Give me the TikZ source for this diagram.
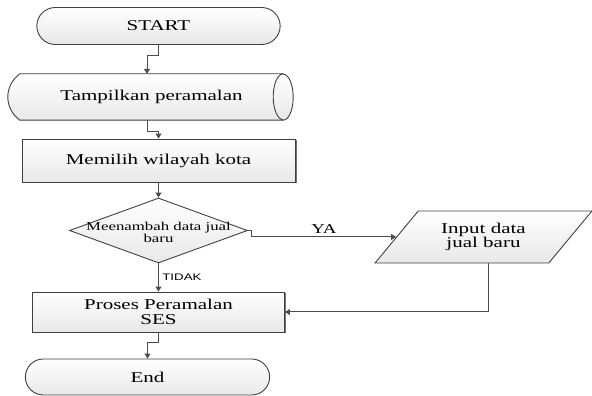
\documentclass[tikz,border=0pt]{standalone}
\usepackage{fontspec}
\setmainfont{Liberation Serif}
\newfontfamily\labelsans{Liberation Sans}
\usetikzlibrary{arrows.meta,shapes.misc,shapes.geometric,shadows,backgrounds}

% text in the picture is stretched sideways
\newcommand\wide[1]{\scalebox{1.4}[1]{#1}}

\tikzset{
  line/.style={draw=black!75, line width=0.9pt},
  flow/.style={draw=black!70, line width=1pt, -{Triangle[length=5pt,width=6pt]}},
  shade/.style={top color=white, bottom color=black!9},
  bigtext/.style={font=\fontsize{15}{14.5}\selectfont, align=center},
  terminal/.style={rounded rectangle, line, shade, bigtext, minimum height=37pt},
  procbox/.style={rectangle, line, shade, bigtext, inner sep=2pt,
    drop shadow={shadow xshift=1.5pt, shadow yshift=-1.5pt, fill=black!55, opacity=1}},
  storage/.style={rectangle, bigtext, minimum width=263pt, minimum height=46pt},
  decision/.style={diamond, line, shade, inner sep=0pt, minimum width=178pt, minimum height=65pt},
  iobox/.style={trapezium, trapezium left angle=49, trapezium right angle=131,
    trapezium stretches=true, line, shade, bigtext, minimum width=217pt, minimum height=52pt},
}

\begin{document}
\begin{tikzpicture}[x=1pt, y=1pt]
    \useasboundingbox (0,0) rectangle (592,396);

    % Start
    \node[terminal, minimum width=250pt] (start) at (158.5,370) {\wide{START}};

    % Tampilan peramalan (storage shape)
    \node[storage] (tamp) at (151.5,299) {\wide{Tampilkan peramalan}};
    \begin{scope}[on background layer]
        \path[line, shade] (tamp.north east) -- (tamp.north west)
            .. controls +(-16,-12) and +(-16,12) .. (tamp.south west)
            -- (tamp.south east) arc[start angle=-90, end angle=90, x radius=10, y radius=23] -- cycle;
        \draw[line] (tamp.north east) arc[start angle=90, end angle=270, x radius=10, y radius=23];
    \end{scope}

    % Pilih wilayah
    \node[procbox, minimum width=273pt, minimum height=43pt] (pick) at (158.5,235.5) {\wide{Memilih wilayah kota}};

    % Keputusan
    \node[decision, label={[font=\fontsize{12}{12}\selectfont, align=center, yshift=-1.5pt]center:{\wide{Meenambah data jual}\\\wide{baru}}}] (d) at (158.5,165.5) {};

    % Input data baru
    \node[iobox] (io) at (483.5,159) {\wide{Input data}\\\wide{jual baru}};

    % Proses SES
    \node[procbox, minimum width=252pt, minimum height=40pt] (proc) at (158.5,84) {\wide{Proses Peramalan}\\\wide{SES}};

    % End
    \node[terminal, minimum width=251pt, minimum height=36pt] (stop) at (147.5,19) {\wide{End}};

    % Connectors
    \draw[flow] (start.south) -- ++(0,-11) -| ([xshift=-4.5pt]tamp.north);
    \draw[flow] ([xshift=-4.5pt]tamp.south) -- ++(0,-11) -| (pick.north);
    \draw[flow] (pick.south) -- (d.north);
    \draw[flow] (d.east) -- ++(4,0) |- node[pos=0.75, above, font=\fontsize{13.5}{13.5}\selectfont] {\wide{YA}} (io.west);
    \draw[flow] (d.south) -- node[right, font=\labelsans\fontsize{9.5}{9.5}\selectfont] {\wide{TIDAK}} (proc.north);
    \draw[flow] ([xshift=5pt]io.south) |- (proc.east);
    \draw[flow] (proc.south) -- ++(0,-10) -| (stop.north);

\end{tikzpicture}
\end{document}
